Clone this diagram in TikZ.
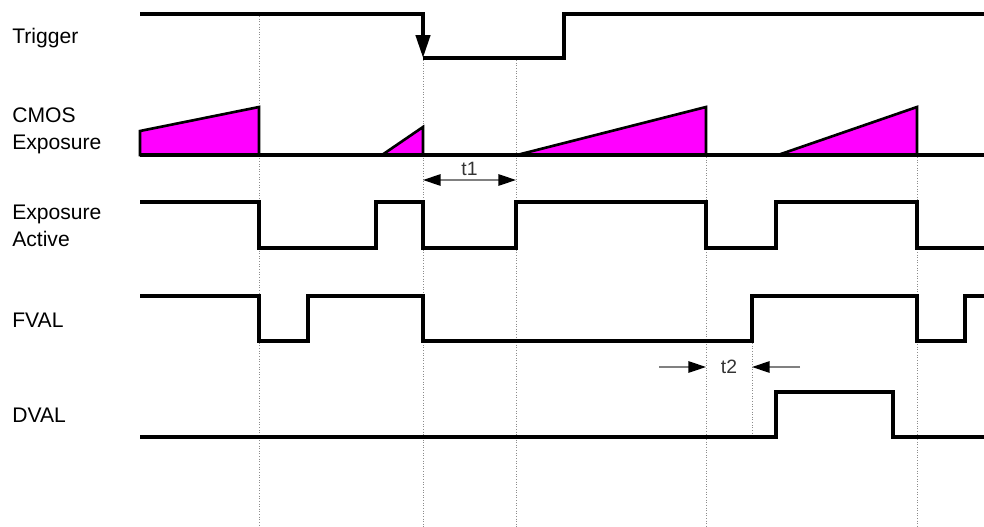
\documentclass[tikz,border=0pt]{standalone}
\usepackage{fontspec}
\setmainfont{Liberation Sans}
\usetikzlibrary{arrows.meta,%
                positioning}
\definecolor{expmag}{RGB}{255,0,255}
\tikzset{
  sig/.style={line width=2.2pt, line join=miter},
  expo/.style={fill=expmag, draw=black, line width=1.5pt, line join=miter},
  guide/.style={densely dotted, black!45, line width=0.5pt},
  dimtip/.tip={Triangle[length=10pt,width=6.5pt,black]},
  dimline/.style={black!50, line width=0.7pt},
  lbl/.style={anchor=west, align=left, inner sep=0pt, font=\fontsize{12}{15.5}\selectfont},
  dimlbl/.style={inner sep=1pt, font=\fontsize{11}{13}\selectfont, text=black!80}
}
\begin{document}
\begin{tikzpicture}[x=0.02cm,y=-0.02cm]
\useasboundingbox (0,0) rectangle (984,527);

\node[lbl] (trig) at (12,38) {Trigger};
\node[lbl] (cmos) at (12,131) {CMOS\\Exposure};
\node[lbl] (expact) at (12,226) {Exposure\\Active};
\node[lbl] (fval) at (12,320) {FVAL};
\node[lbl] (dval) at (12,415) {DVAL};

\draw[guide] (259,16) -- (259,527);
\draw[guide] (423,60) -- (423,527);
\draw[guide] (516,60) -- (516,527);
\draw[guide] (706,157) -- (706,527);
\draw[guide] (917,157) -- (917,527);
\draw[guide] (752,343) -- (752,437);

\draw[sig,-{Triangle[length=13pt,width=8pt]}] (140,14) -- (423,14) -- (423,58);
\draw[sig] (423,58) -- (564,58) -- (564,14) -- (984,14);

\draw[expo] (140,155) -- (140,131) -- (259,107) -- (259,155) -- cycle;
\draw[expo] (382,155) -- (423,127) -- (423,155) -- cycle;
\draw[expo] (517,155) -- (706,107) -- (706,155) -- cycle;
\draw[expo] (778,155) -- (917,107) -- (917,155) -- cycle;
\draw[sig] (140,155) -- (984,155);

\coordinate (t1a) at (423,180);
\coordinate (t1b) at (516,180);
\draw[dimline,dimtip-dimtip] (t1a) -- node[dimlbl,above=1pt] (t1) {t1} (t1b);

\draw[sig] (140,202) -- (259,202) -- (259,248) -- (376,248) -- (376,202) -- (423,202) -- (423,248) -- (516,248) -- (516,202) -- (706,202) -- (706,248) -- (776,248) -- (776,202) -- (917,202) -- (917,248) -- (984,248);

\draw[sig] (140,296) -- (259,296) -- (259,341) -- (308,341) -- (308,296) -- (423,296) -- (423,341) -- (752,341) -- (752,296) -- (917,296) -- (917,341) -- (965,341) -- (965,296) -- (984,296);

\coordinate (t2a) at (659,367);
\coordinate (t2b) at (706,367);
\coordinate (t2c) at (800,367);
\coordinate (t2d) at (752,367);
\draw[dimline,-dimtip] (t2a) -- (t2b);
\draw[dimline,-dimtip] (t2c) -- (t2d);
\node[dimlbl] (t2) at (729,367) {t2};

\draw[sig] (140,437) -- (776,437) -- (776,392) -- (893,392) -- (893,437) -- (984,437);
\end{tikzpicture}
\end{document}
